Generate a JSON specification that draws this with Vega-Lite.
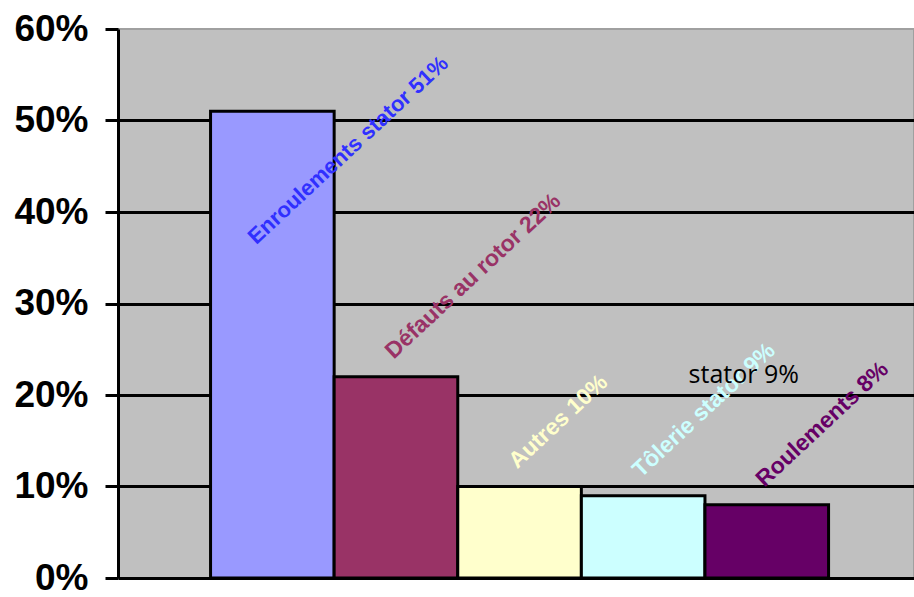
{
  "$schema": "https://vega.github.io/schema/vega-lite/v6.json",
  "width": 796,
  "height": 549,
  "autosize": {"type": "none"},
  "padding": {"left": 118, "top": 29, "right": 0, "bottom": 19},
  "background": "white",
  "config": {"view": {"fill": "#c0c0c0", "stroke": "#a0a0a0", "strokeWidth": 2}},
  "data": {"values": [
    {"cause": "Enroulements stator", "value": 0.51, "label": "Enroulements stator 51%"},
    {"cause": "Défauts au rotor", "value": 0.22, "label": "Défauts au rotor 22%"},
    {"cause": "Autres", "value": 0.10, "label": "Autres 10%"},
    {"cause": "Tôlerie stator", "value": 0.09, "label": "Tôlerie stator 9%"},
    {"cause": "Roulements", "value": 0.08, "label": "Roulements 8%"}
  ]},
  "encoding": {
    "x": {
      "field": "cause", "type": "nominal", "sort": null,
      "scale": {"domain": ["Enroulements stator", "Défauts au rotor", "Autres", "Tôlerie stator", "Roulements"], "paddingInner": 0, "paddingOuter": 0.72, "align": 0.52},
      "axis": {"title": null, "labels": false, "ticks": false, "domainColor": "black", "domainWidth": 3, "grid": false}
    },
    "y": {
      "field": "value", "type": "quantitative",
      "scale": {"domain": [0, 0.6], "nice": false},
      "axis": {
        "title": null, "format": ".0%", "values": [0, 0.1, 0.2, 0.3, 0.4, 0.5, 0.6],
        "labelFont": "Liberation Sans", "labelFontWeight": "bold", "labelFontSize": 37, "labelColor": "black",
        "labelPadding": 17, "labelFlush": false, "labelOverlap": false,
        "tickSize": 13, "tickWidth": 3, "tickColor": "black",
        "domainColor": "black", "domainWidth": 3,
        "grid": true, "gridWidth": 3,
        "gridColor": {"condition": {"test": "datum.value >= 0.59 || datum.value == 0", "value": "transparent"}, "value": "black"}
      }
    }
  },
  "layer": [
    {
      "mark": {"type": "bar", "stroke": "black", "strokeWidth": 3},
      "encoding": {
        "color": {"field": "cause", "type": "nominal", "sort": null, "legend": null,
          "scale": {"domain": ["Enroulements stator", "Défauts au rotor", "Autres", "Tôlerie stator", "Roulements"], "range": ["#9999ff", "#993366", "#ffffcc", "#ccffff", "#660066"]}}
      }
    },
    {
      "transform": [{"filter": "datum.cause !== 'Enroulements stator'"}],
      "mark": {"type": "text", "angle": -43, "align": "left", "baseline": "middle", "dx": 10, "dy": -21, "font": "Liberation Sans", "fontWeight": "bold", "fontSize": 23},
      "encoding": {
        "text": {"field": "label"},
        "color": {"field": "cause", "type": "nominal", "sort": null, "legend": null,
          "scale": {"domain": ["Enroulements stator", "Défauts au rotor", "Autres", "Tôlerie stator", "Roulements"], "range": ["#9999ff", "#993366", "#ffffcc", "#ccffff", "#660066"]}}
      }
    },
    {
      "transform": [{"filter": "datum.cause === 'Enroulements stator'"}],
      "mark": {"type": "text", "angle": -43, "align": "left", "baseline": "middle", "dx": -103, "dy": 80, "font": "Liberation Sans", "fontWeight": "bold", "fontSize": 22, "color": "#3030ff"},
      "encoding": {"text": {"field": "label"}}
    },
    {
      "data": {"values": [{"cause": "Roulements", "value": 0.213, "note": "stator 9%"}]},
      "mark": {"type": "text", "font": "Open Sans", "fontSize": 25, "align": "center", "baseline": "alphabetic", "dx": -23, "color": "black"},
      "encoding": {"text": {"field": "note"}}
    }
  ]
}
